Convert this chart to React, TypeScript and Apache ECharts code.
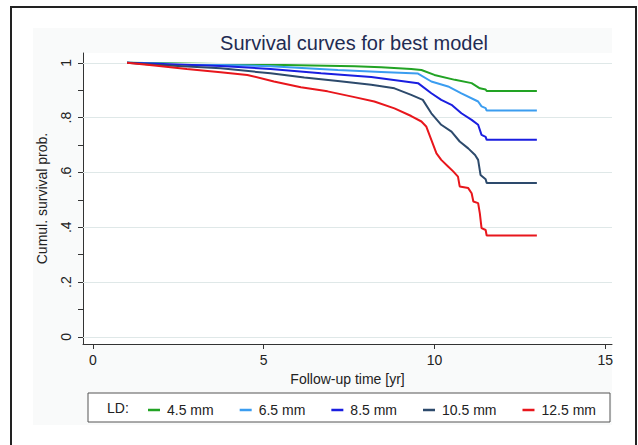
import React, { useEffect, useRef } from "react";
import * as echarts from "echarts";

const seriesNames = ["4.5 mm", "6.5 mm", "8.5 mm", "10.5 mm", "12.5 mm"];
const seriesColors = ["#22a324", "#3b9df0", "#1a1ee0", "#2d4a6c", "#e8161c"];

const tGreen = [1, 5.2, 7.66, 8.44, 9.32, 9.62, 10.0, 10.6, 11.09, 11.33, 11.5, 11.53, 13];
const vGreen = [1, 0.993, 0.988, 0.984, 0.978, 0.974, 0.956, 0.938, 0.926, 0.907, 0.903, 0.897, 0.897];

const tLightBlue = [1, 5.2, 7.17, 8.44, 9.52, 9.91, 10.4, 10.79, 11.28, 11.38, 11.5, 11.53, 13];
const vLightBlue = [1, 0.988, 0.974, 0.967, 0.961, 0.932, 0.914, 0.889, 0.859, 0.841, 0.835, 0.826, 0.826];

const tBlue = [1, 3.74, 5.2, 6.68, 8.15, 9.03, 9.52, 9.91, 10.2, 10.5, 10.79, 11.09, 11.28, 11.38, 11.5, 11.53, 13];
const vBlue = [1, 0.989, 0.978, 0.962, 0.948, 0.934, 0.926, 0.889, 0.865, 0.847, 0.816, 0.792, 0.774, 0.737, 0.73, 0.719, 0.719];

const tSlate = [1, 1.8, 3.74, 5.2, 6.19, 7.17, 8.15, 8.83, 9.32, 9.66, 9.91, 10.2, 10.5, 10.74, 10.99, 11.19, 11.28, 11.35, 11.5, 11.53, 13];
const vSlate = [1, 0.993, 0.98, 0.962, 0.947, 0.934, 0.92, 0.907, 0.883, 0.865, 0.816, 0.774, 0.749, 0.713, 0.688, 0.664, 0.646, 0.591, 0.575, 0.562, 0.562];

const tRed = [1, 1.8, 2.75, 3.74, 4.52, 5.3, 6.09, 6.87, 7.66, 8.24, 8.83, 9.32, 9.62, 9.76, 9.91, 10.06, 10.2, 10.4, 10.55, 10.69, 10.74, 10.99, 11.09, 11.14, 11.28, 11.33, 11.38, 11.5, 11.53, 13];
const vRed = [1, 0.99, 0.978, 0.966, 0.956, 0.932, 0.911, 0.896, 0.875, 0.859, 0.834, 0.806, 0.786, 0.768, 0.719, 0.67, 0.646, 0.622, 0.604, 0.585, 0.549, 0.543, 0.524, 0.494, 0.488, 0.451, 0.397, 0.39, 0.37, 0.37];

const xTicks = [0, 5, 10, 15];
const yLabelTicks = [0, 0.2, 0.4, 0.6, 0.8, 1];
const yMinorTicks = [0, 0.1, 0.2, 0.3, 0.4, 0.5, 0.6, 0.7, 0.8, 0.9, 1];

const allTimes = [tGreen, tLightBlue, tBlue, tSlate, tRed];
const allValues = [vGreen, vLightBlue, vBlue, vSlate, vRed];

const FONT = "'Liberation Sans', Arial, Helvetica, sans-serif";

export default function App() {
  const ref = useRef<HTMLDivElement>(null);
  useEffect(() => {
    if (!ref.current) return;
    const chart = echarts.init(ref.current, undefined, { renderer: "svg" });
    const dataSeries = seriesNames.map((name, i) => ({
      name,
      type: "line",
      data: allTimes[i].map((t, j) => [t, allValues[i][j]]),
      showSymbol: false,
      symbol: "none",
      color: seriesColors[i],
      lineStyle: { width: 2, color: seriesColors[i] },
      z: 3 + i,
    }));
    chart.setOption({
      animation: false,
      textStyle: { fontFamily: FONT },
      title: {
        text: "Survival curves for best model",
        left: 349,
        top: 28,
        textAlign: "center",
        textStyle: { fontSize: 20, fontWeight: "normal", color: "#1f2b52", fontFamily: FONT },
      },
      grid: {
        left: 83,
        top: 53,
        width: 529,
        height: 291,
        show: true,
        backgroundColor: "#ffffff",
        borderWidth: 0,
      },
      legend: {
        data: seriesNames,
        left: 143,
        top: 398,
        icon: "rect",
        itemWidth: 12,
        itemHeight: 2.5,
        itemGap: 26,
        textStyle: { fontSize: 14, color: "#222", fontFamily: FONT, padding: [0, 0, 0, 2] },
      },
      xAxis: {
        type: "value",
        min: -0.29,
        max: 15.2,
        name: "Follow-up time [yr]",
        nameLocation: "middle",
        nameGap: 28,
        nameTextStyle: { fontSize: 14, color: "#222", fontFamily: FONT },
        axisLine: { show: true, onZero: false, lineStyle: { color: "#333", width: 1 } },
        axisTick: { show: true, length: 5, customValues: xTicks, lineStyle: { color: "#333" } },
        axisLabel: { customValues: xTicks, fontSize: 14, margin: 9, color: "#222", fontFamily: FONT },
        splitLine: { show: false },
      },
      yAxis: {
        type: "value",
        min: -0.026,
        max: 1.036,
        name: "Cumul. survival prob.",
        nameLocation: "middle",
        nameGap: 34,
        nameTextStyle: { fontSize: 14, color: "#222", fontFamily: FONT },
        axisLine: { show: true, onZero: false, lineStyle: { color: "#333", width: 1 } },
        axisTick: { show: true, length: 5, customValues: yMinorTicks, lineStyle: { color: "#333" } },
        axisLabel: {
          customValues: yLabelTicks,
          rotate: 90,
          fontSize: 14,
          margin: 10,
          color: "#222",
          fontFamily: FONT,
          formatter: (v: number) => (v === 0 ? "0" : v === 1 ? "1" : String(Math.round(v * 10) / 10).replace("0.", ".")),
        },
        splitLine: { show: false },
      },
      graphic: [
        {
          type: "rect",
          z: -10,
          silent: true,
          shape: { x: 33, y: 28, width: 579, height: 397 },
          style: { fill: "#f9fafa" },
        },
        {
          type: "rect",
          z: 100,
          silent: true,
          shape: { x: 11, y: 7, width: 625, height: 460 },
          style: { fill: "none", stroke: "#222", lineWidth: 2 },
        },
        {
          type: "rect",
          z: 1,
          silent: true,
          shape: { x: 88, y: 393, width: 522, height: 29 },
          style: { fill: "#ffffff", stroke: "#555", lineWidth: 1 },
        },
        {
          type: "text",
          z: 5,
          x: 107,
          y: 408,
          style: { text: "LD:", fontSize: 14, fill: "#222", fontFamily: FONT, verticalAlign: "middle" },
        },
      ],
      series: [
        {
          name: "grid",
          type: "line",
          data: [[-1, -1]],
          symbol: "none",
          lineStyle: { opacity: 0 },
          z: 1,
          silent: true,
          markLine: {
            silent: true,
            symbol: ["none", "none"],
            label: { show: false },
            lineStyle: { color: "#dfe8e8", width: 1, type: "solid" },
            data: yLabelTicks.map((v) => ({ yAxis: v })),
          },
        },
        ...dataSeries,
      ],
    });
    return () => chart.dispose();
  }, []);
  return <div ref={ref} style={{ position: "absolute", left: 0, top: 0, width: 638, height: 445 }} />;
}
